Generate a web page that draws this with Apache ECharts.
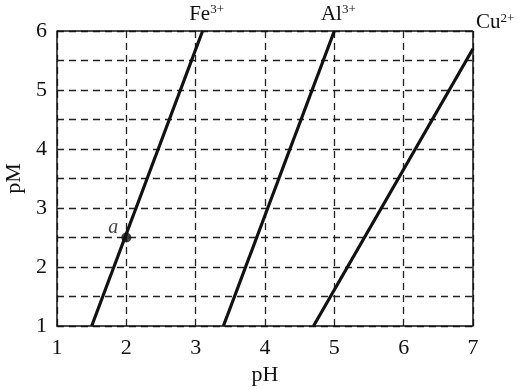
<!DOCTYPE html>
<html><head><meta charset="utf-8">
<script src="https://cdn.jsdelivr.net/npm/echarts@6/dist/echarts.min.js"></script>
<style>html,body{margin:0;padding:0;background:#fff}#c{width:522px;height:390px}</style>
</head><body><div id="c"></div>
<script>
var xTicks = [1, 2, 3, 4, 5, 6, 7];
var yTicks = [1, 2, 3, 4, 5, 6];
var feLine = [[1.5, 1], [3.1, 6]];
var alLine = [[3.4, 1], [5.0, 6]];
var cuLine = [[4.7, 1], [7.0, 5.7]];
var pointA = [[2, 2.5]];
var ionNames = ['Fe', 'Al', 'Cu'];
var ionCharges = ['3+', '3+', '2+'];

var font = 'Liberation Serif, Times New Roman, serif';
var chart = echarts.init(document.getElementById('c'));
var rich = {
  b: {fontFamily: font, fontSize: 21, color: '#111'},
  s: {fontFamily: font, fontSize: 13, color: '#111', verticalAlign: 'top', padding: [0, 0, 9, 0]}
};
function ionLabel(i) { return '{b|' + ionNames[i] + '}{s|' + ionCharges[i] + '}'; }
function lineSeries(data, idx, pos, offset) {
  return {
    type: 'line', data: data, symbol: 'none', silent: true,
    lineStyle: {color: '#111', width: 3.2},
    label: {show: false},
    markPoint: {
      symbol: 'circle', symbolSize: 0,
      data: [{coord: data[data.length - 1], value: 0}],
      label: {show: true, position: pos, offset: offset, formatter: function () { return ionLabel(idx); }, rich: rich}
    }
  };
}
var dash = {color: '#222', type: [7, 5], width: 1.3};
chart.setOption({
  animation: false,
  grid: {left: 57, right: 49, top: 31, bottom: 64, containLabel: false, outerBoundsMode: 'none'},
  xAxis: {
    type: 'value', min: 1, max: 7, interval: 1,
    name: 'pH', nameLocation: 'middle', nameGap: 38,
    nameTextStyle: {fontFamily: font, fontSize: 22, color: '#111'},
    axisLine: {show: true, lineStyle: {color: '#111', width: 1.5}},
    axisTick: {show: false},
    axisLabel: {fontFamily: font, fontSize: 22, color: '#111', margin: 11},
    splitLine: {show: true, lineStyle: dash}
  },
  yAxis: {
    type: 'value', min: 1, max: 6, interval: 1,
    name: 'pM', nameLocation: 'middle', nameGap: 29, nameRotate: 90,
    nameTextStyle: {fontFamily: font, fontSize: 22, color: '#111'},
    axisLine: {show: true, lineStyle: {color: '#111', width: 1.5}},
    axisTick: {show: false},
    axisLabel: {fontFamily: font, fontSize: 22, color: '#111', margin: 10},
    splitLine: {show: true, lineStyle: dash},
    minorTick: {show: false, splitNumber: 2},
    minorSplitLine: {show: true, lineStyle: dash}
  },
  series: [
    lineSeries(feLine, 0, 'top', [4, -1]),
    lineSeries(alLine, 1, 'top', [4, -1]),
    lineSeries(cuLine, 2, 'right', [-2, -26]),
    {type: 'scatter', data: pointA, symbolSize: 10, itemStyle: {color: '#111'},
     label: {show: true, formatter: 'a', position: 'left', offset: [2, -10],
       fontFamily: font, fontStyle: 'italic', fontSize: 20, color: '#111'}},
    {type: 'line', data: [], markLine: {silent: true, symbol: 'none', label: {show: false},
      lineStyle: {color: '#111', type: 'solid', width: 1.5},
      data: [[{coord: [1, 6]}, {coord: [7, 6]}], [{coord: [7, 1]}, {coord: [7, 6]}]]}}
  ]
});
</script></body></html>
